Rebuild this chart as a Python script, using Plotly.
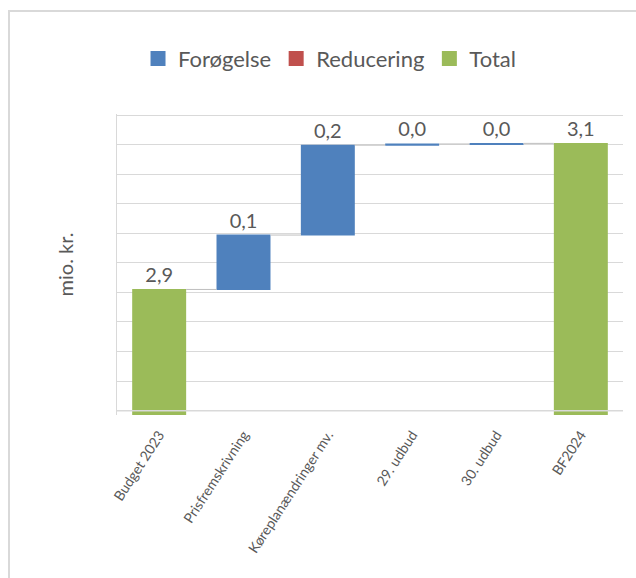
import plotly.graph_objects as go

categories = ["Budget 2023", "Prisfremskrivning", "Køreplanændringer mv.", "29. udbud", "30. udbud", "BF2024"]
measures = ["absolute", "relative", "relative", "relative", "relative", "total"]
values = [2.855, 0.092, 0.152, 0.002, 0.001, 0]
legend_names = ["Forøgelse", "Reducering", "Total"]
legend_colors = ["#4F81BD", "#C0504D", "#9BBB59"]

total = sum(values[:-1])
label_vals = values[:-1] + [total]
labels = [f"{v:.1f}".replace(".", ",") for v in label_vals]

FONT = "Lato"
GREY = "#595959"
GRID = "#D9D9D9"

fig = go.Figure()
fig.add_trace(go.Waterfall(
    x=categories, y=values, measure=measures,
    text=labels, textposition="outside",
    textfont=dict(family=FONT, size=20, color=GREY),
    increasing=dict(marker=dict(color=legend_colors[0])),
    decreasing=dict(marker=dict(color=legend_colors[1])),
    totals=dict(marker=dict(color=legend_colors[2])),
    connector=dict(line=dict(color="#BFBFBF", width=1)),
    showlegend=False, cliponaxis=False,
))
for name, col in zip(legend_names, legend_colors):
    fig.add_trace(go.Scatter(
        x=[None], y=[None], mode="markers", name=name,
        marker=dict(symbol="square", size=15, color=col),
    ))

fig.update_layout(
    width=636, height=578,
    margin=dict(l=117, r=13, t=114, b=163),
    paper_bgcolor="white", plot_bgcolor="white",
    waterfallgap=0.36,
    font=dict(family=FONT, color=GREY),
    legend=dict(orientation="h", x=0.42, xanchor="center", y=1.184, yanchor="middle",
                font=dict(family=FONT, size=22, color=GREY), itemwidth=30),
    xaxis=dict(tickangle=-57, tickfont=dict(family=FONT, size=14, color=GREY),
               showgrid=False, showline=False, ticks="", ticklabelstandoff=8),
    yaxis=dict(range=[2.6427, 3.1517], tick0=2.65, dtick=0.05, showticklabels=False,
               showgrid=True, gridcolor=GRID, gridwidth=1, zeroline=False,
               showline=True, linecolor=GRID, linewidth=1, ticks="",
               title=dict(text="mio. kr.", font=dict(family=FONT, size=20, color=GREY), standoff=37)),
    shapes=[
        dict(type="line", xref="paper", yref="y", x0=0, x1=1, y0=2.65, y1=2.65,
             line=dict(color=GRID, width=1.5), layer="above"),
        dict(type="rect", xref="paper", yref="paper", x0=-0.2134, x1=1.2, y0=-0.8, y1=1.342,
             line=dict(color=GRID, width=2), layer="below"),
    ],
)

fig.write_html("out.html", config={"displayModeBar": False},
               post_script="document.body.style.margin='0px';")
